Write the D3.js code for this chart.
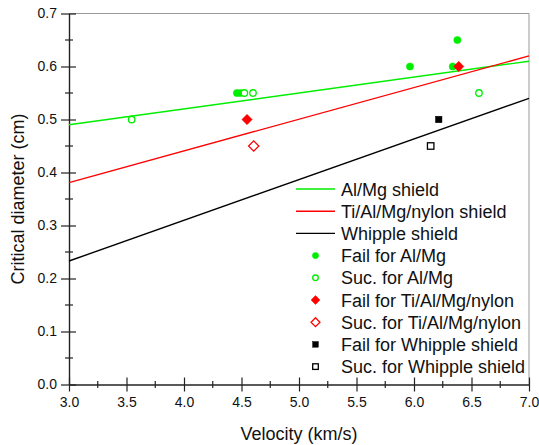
<!DOCTYPE html>
<html>
<head>
<meta charset="utf-8">
<script src="https://cdn.jsdelivr.net/npm/d3@7"></script>
<style>
  body { margin: 0; background: #fff; }
  text { font-family: "Liberation Sans", Arial, sans-serif; fill: #111; }
</style>
</head>
<body>
<svg id="chart" width="539" height="445"></svg>
<script>
// fitted lines: [velocity, diameter] at both ends
const alMgLine = [[3.0, 0.49], [7.0, 0.61]];
const tiLine = [[3.0, 0.381], [7.0, 0.62]];
const whippleLine = [[3.0, 0.233], [7.0, 0.54]];

// test points
const failAlMg = [[4.46, 0.55], [4.49, 0.55], [5.965, 0.6], [6.377, 0.65], [6.337, 0.6]];
const sucAlMg = [[3.545, 0.5], [4.525, 0.55], [4.60, 0.55], [6.565, 0.55]];
const failTi = [[4.548, 0.5], [6.389, 0.6]];
const sucTi = [[4.606, 0.45]];
const failWhipple = [[6.215, 0.5]];
const sucWhipple = [[6.145, 0.45]];

const xTicks = [3.0, 3.5, 4.0, 4.5, 5.0, 5.5, 6.0, 6.5, 7.0];
const yTicks = [0.0, 0.1, 0.2, 0.3, 0.4, 0.5, 0.6, 0.7];

const legendItems = [
  {label: "Al/Mg shield", kind: "line", color: "#00ee00"},
  {label: "Ti/Al/Mg/nylon shield", kind: "line", color: "#ff0000"},
  {label: "Whipple shield", kind: "line", color: "#000"},
  {label: "Fail for Al/Mg", kind: "circle", fill: true, color: "#00ee00"},
  {label: "Suc. for Al/Mg", kind: "circle", fill: false, color: "#00ee00"},
  {label: "Fail for Ti/Al/Mg/nylon", kind: "diamond", fill: true, color: "#ff0000"},
  {label: "Suc. for Ti/Al/Mg/nylon", kind: "diamond", fill: false, color: "#ff0000"},
  {label: "Fail for Whipple shield", kind: "square", fill: true, color: "#000"},
  {label: "Suc. for Whipple shield", kind: "square", fill: false, color: "#000"}
];

var svg = d3.select("#chart");
var pLeft = 69, pRight = 529, pTop = 13.5, pBottom = 384.5;

var x = d3.scaleLinear().domain([3, 7]).range([pLeft, pRight]);
var y = d3.scaleLinear().domain([0, 0.7]).range([pBottom, pTop]);

// frame top/right
svg.append("path")
  .attr("d", "M" + pLeft + "," + pTop + "H" + pRight + "V" + pBottom)
  .attr("fill", "none").attr("stroke", "#999").attr("stroke-width", 1);

// minor ticks
var xMinor = d3.range(3.25, 7, 0.5);
var yMinor = d3.range(0.05, 0.7, 0.1);
svg.selectAll(".xminor").data(xMinor).enter().append("line")
  .attr("x1", d => x(d)).attr("x2", d => x(d))
  .attr("y1", pBottom - 3.5).attr("y2", pBottom + 3.5)
  .attr("stroke", "#222").attr("stroke-width", 1.2);
svg.selectAll(".yminor").data(yMinor).enter().append("line")
  .attr("y1", d => y(d)).attr("y2", d => y(d))
  .attr("x1", pLeft - 4).attr("x2", pLeft + 4)
  .attr("stroke", "#222").attr("stroke-width", 1.2);

var xAxis = svg.append("g").attr("transform", "translate(0," + pBottom + ")")
  .call(d3.axisBottom(x).tickValues(xTicks).tickFormat(d3.format(".1f"))
    .tickSizeInner(7).tickSizeOuter(0).tickPadding(6));
var yAxis = svg.append("g").attr("transform", "translate(" + pLeft + ",0)")
  .call(d3.axisLeft(y).tickValues(yTicks).tickFormat(d3.format(".1f"))
    .tickSizeInner(8).tickSizeOuter(0).tickPadding(4));

[xAxis, yAxis].forEach(function(g){
  g.select(".domain").attr("stroke", "#222").attr("stroke-width", 1.4);
  g.selectAll(".tick line").attr("stroke", "#222").attr("stroke-width", 1.2);
  g.selectAll(".tick text").attr("font-size", 14).attr("fill", "#111")
    .style("font-family", "Liberation Sans, Arial, sans-serif");
});
// major ticks cross the axis
xAxis.selectAll(".tick line").attr("y1", -7);
yAxis.selectAll(".tick line").attr("x1", 7);

svg.append("text").attr("x", (pLeft + pRight) / 2).attr("y", 440)
  .attr("text-anchor", "middle").attr("font-size", 18).text("Velocity (km/s)");
svg.append("text").attr("transform", "translate(24," + ((pTop + pBottom) / 2) + ") rotate(-90)")
  .attr("text-anchor", "middle").attr("font-size", 18).text("Critical diameter (cm)");

// fitted lines
var line = d3.line().x(d => x(d[0])).y(d => y(d[1]));
[[alMgLine, "#00ee00"], [tiLine, "#ff0000"], [whippleLine, "#000"]].forEach(function(l){
  svg.append("path").datum(l[0]).attr("d", line)
    .attr("fill", "none").attr("stroke", l[1]).attr("stroke-width", 1.4);
});

function marker(g, kind, fill, color, cx, cy, s) {
  var el;
  if (kind === "circle") {
    el = g.append("circle").attr("cx", cx).attr("cy", cy).attr("r", fill ? s * 0.95 : s * 0.85);
  } else if (kind === "diamond") {
    var r = s * 1.35;
    el = g.append("path").attr("d", "M" + cx + "," + (cy - r) + "L" + (cx + r) + "," + cy +
      "L" + cx + "," + (cy + r) + "L" + (cx - r) + "," + cy + "Z");
  } else {
    var h = s * 0.85;
    el = g.append("rect").attr("x", cx - h).attr("y", cy - h).attr("width", 2 * h).attr("height", 2 * h);
  }
  el.attr("fill", fill ? color : "#fff").attr("stroke", color).attr("stroke-width", fill ? 0.5 : 1.3);
}

var pts = svg.append("g");
[[failAlMg, "circle", true, "#00ee00"], [sucAlMg, "circle", false, "#00ee00"],
 [failWhipple, "square", true, "#000"], [sucWhipple, "square", false, "#000"],
 [failTi, "diamond", true, "#ff0000"], [sucTi, "diamond", false, "#ff0000"]].forEach(function(p){
  p[0].forEach(function(d){ marker(pts, p[1], p[2], p[3], x(d[0]), y(d[1]), 3.8); });
});

// legend
var lg = svg.append("g");
legendItems.forEach(function(it, i){
  var ly = 189 + i * 22.2;
  if (it.kind === "line") {
    lg.append("line").attr("x1", 296).attr("x2", 335).attr("y1", ly).attr("y2", ly)
      .attr("stroke", it.color).attr("stroke-width", 1.4);
  } else {
    marker(lg, it.kind, it.fill, it.color, 315.5, ly, 3.3);
  }
  lg.append("text").attr("x", 341).attr("y", ly + 6.5).attr("font-size", 18).text(it.label);
});
</script>
</body>
</html>
